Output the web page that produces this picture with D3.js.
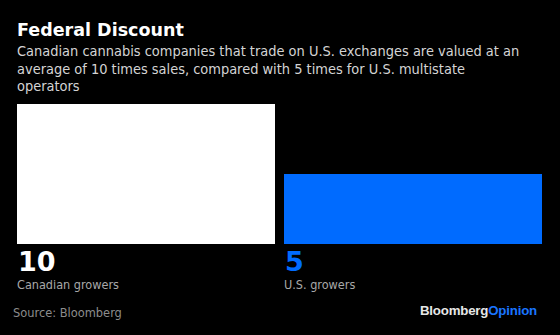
<!DOCTYPE html>
<html><head><meta charset="utf-8">
<script src="https://cdn.jsdelivr.net/npm/d3@7"></script>
<style>html,body{margin:0;padding:0;background:#000;}svg{display:block;}</style>
</head><body>
<script>
const categories = ["Canadian growers", "U.S. growers"];
const values = [10, 5];
const valueLabels = ["10", "5"];
const barColors = ["#ffffff", "#006bff"];
const title = "Federal Discount";
const subtitleLines = [
  "Canadian cannabis companies that trade on U.S. exchanges are valued at an",
  "average of 10 times sales, compared with 5 times for U.S. multistate",
  "operators"
];
const source = "Source: Bloomberg";

const W = 560, H = 335;
const svg = d3.select("body").append("svg").attr("width", W).attr("height", H);
svg.append("rect").attr("width", W).attr("height", H).attr("fill", "#000");

const cond = "'DejaVu Sans Condensed', 'DejaVu Sans', sans-serif";

// scale a group of texts so that the reference node gets the target width
function fit(sel, refNode, target, base) {
  const len = refNode.getComputedTextLength();
  const fs = base * target / len;
  sel.attr("font-size", fs);
}

const t = svg.append("text").attr("x", 17).attr("y", 35.5).text(title)
  .attr("fill", "#fff").attr("font-family", "'DejaVu Sans', sans-serif")
  .attr("font-weight", "bold").attr("font-size", 17.5);
fit(t, t.node(), 167, 17.5);

const sub = svg.append("g").selectAll("text").data(subtitleLines).join("text")
  .attr("x", 17).attr("y", (d, i) => 56 + i * 17.6)
  .text(d => d).attr("fill", "#d4d4d4").attr("font-family", cond).attr("font-size", 13.5);
fit(sub, sub.nodes()[0], 503, 13.5);

const x = d3.scaleBand().domain(categories).range([17, 542]).paddingInner(9 / 267).paddingOuter(0);
const y = d3.scaleLinear().domain([0, 10]).range([244, 104]);

svg.append("g").selectAll("rect").data(values).join("rect")
  .attr("x", (d, i) => x(categories[i])).attr("width", x.bandwidth())
  .attr("y", d => y(d)).attr("height", d => y(0) - y(d))
  .attr("fill", (d, i) => barColors[i]);

svg.append("g").selectAll("text").data(valueLabels).join("text")
  .attr("x", (d, i) => x(categories[i]) + 1).attr("y", 270.5)
  .text(d => d).attr("fill", (d, i) => barColors[i])
  .attr("font-family", "'DejaVu Sans', sans-serif").attr("font-weight", "bold").attr("font-size", 27);

const cats = svg.append("g").selectAll("text").data(categories).join("text")
  .attr("x", d => x(d)).attr("y", 289.3)
  .text(d => d).attr("fill", "#a8a8a8").attr("font-family", cond).attr("font-size", 13.5);
fit(cats, cats.nodes()[0], 102, 13.5);

const src = svg.append("text").attr("x", 13).attr("y", 316.5).text(source)
  .attr("fill", "#8c8c8c").attr("font-family", cond).attr("font-size", 13.5);
fit(src, src.node(), 109, 13.5);

const logo = svg.append("text").attr("x", 537).attr("y", 315).attr("text-anchor", "end")
  .attr("font-family", "'Liberation Sans', Arial, sans-serif").attr("font-weight", "bold").attr("font-size", 12.5)
  .attr("letter-spacing", -0.2);
logo.append("tspan").attr("fill", "#e6e6e6").text("Bloomberg");
logo.append("tspan").attr("fill", "#1a75ff").text("Opinion");
fit(logo, logo.node(), 117, 12.5);
</script>
</body></html>
